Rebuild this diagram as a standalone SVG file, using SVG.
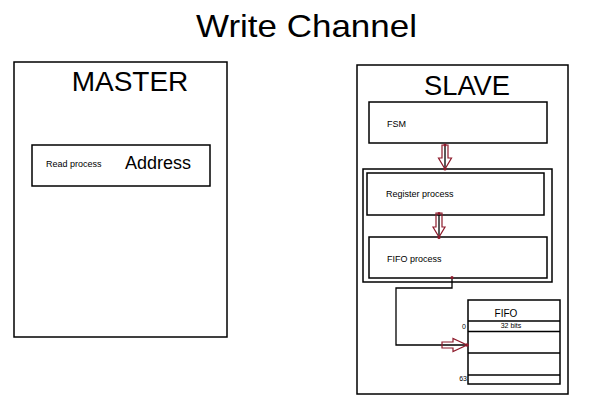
<svg xmlns="http://www.w3.org/2000/svg" width="602" height="407" viewBox="0 0 602 407">
<style>
.box{fill:none;stroke:#000;stroke-width:1.5}
.t{font-family:"Liberation Sans",Arial,sans-serif;fill:#000}
.big{font-size:28px}
.sm{font-size:9px}
.xs{font-size:7px}
.arr{fill:none;stroke:#8e1b2c;stroke-width:1.2;stroke-linejoin:miter}
.ln{fill:none;stroke:#000;stroke-width:1.3}
.dot{fill:#8e1b2c}
</style>
<rect width="602" height="407" fill="#fff"/>
<g id="title">
<text class="t" x="196" y="37" font-size="32" textLength="221" lengthAdjust="spacingAndGlyphs">Write Channel</text>
</g>
<g id="master">
<rect class="box" x="14" y="62" width="213" height="275"/>
<text class="t big" x="130" y="91" text-anchor="middle">MASTER</text>
</g>
<g id="read-process">
<rect class="box" x="32" y="145" width="178" height="41"/>
<text class="t sm" x="46" y="167">Read process</text>
<text class="t" x="125" y="169" font-size="18">Address</text>
</g>
<g id="slave">
<rect class="box" x="357" y="65" width="211" height="329"/>
<text class="t big" x="467" y="95" text-anchor="middle" textLength="86" lengthAdjust="spacingAndGlyphs">SLAVE</text>
</g>
<g id="fsm">
<rect class="box" x="369" y="102" width="178" height="41"/>
<text class="t sm" x="387" y="127">FSM</text>
</g>
<g id="process-group">
<rect class="box" x="363" y="169" width="189" height="113"/>
</g>
<g id="register-process">
<rect class="box" x="367" y="173" width="177" height="42"/>
<text class="t sm" x="386" y="197">Register process</text>
</g>
<g id="fifo-process">
<rect class="box" x="369" y="237" width="178" height="41"/>
<text class="t sm" x="387" y="262">FIFO process</text>
</g>
<g id="fifo">
<rect class="box" x="468" y="300" width="92" height="84"/>
<line class="ln" x1="468" y1="321" x2="560" y2="321"/>
<line class="ln" x1="468" y1="331.5" x2="560" y2="331.5"/>
<line class="ln" x1="468" y1="353" x2="560" y2="353"/>
<line class="ln" x1="468" y1="375" x2="560" y2="375"/>
<text class="t" x="506" y="317" font-size="10" text-anchor="middle">FIFO</text>
<text class="t xs" x="511" y="328" text-anchor="middle">32 bits</text>
<text class="t xs" x="466" y="329" text-anchor="end">0</text>
<text class="t xs" x="467" y="381" text-anchor="end">63</text>
</g>
<g id="connectors">
<line class="ln" x1="445" y1="145" x2="445" y2="169"/>
<polygon class="arr" points="442,145 448,145 448,158 451.5,158 445,169 438.5,158 442,158"/>
<circle class="dot" cx="445" cy="145" r="1.6"/>
<circle class="dot" cx="445" cy="169" r="1.6"/>
<line class="ln" x1="439" y1="213" x2="439" y2="237"/>
<polygon class="arr" points="436,213 442,213 442,227 445,227 439,237 433,227 436,227"/>
<circle class="dot" cx="439" cy="213.5" r="1.6"/>
<circle class="dot" cx="439" cy="237.5" r="1.6"/>
<path class="ln" d="M452,278 V288 H396 V345 H467"/>
<polygon class="arr" points="442,342 453,342 453,338.5 467,345 453,351.5 453,348 442,348"/>
<circle class="dot" cx="452" cy="277.5" r="1.6"/>
<circle class="dot" cx="467" cy="345" r="1.8"/>
</g>
</svg>
